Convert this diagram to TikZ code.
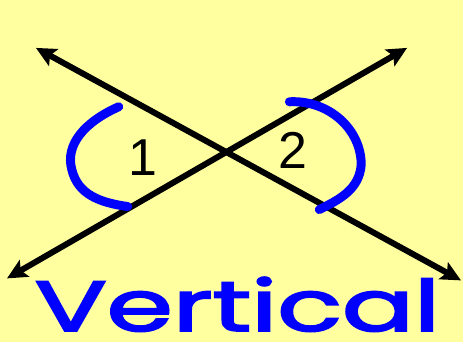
\documentclass[tikz,border=0pt]{standalone}
\usepackage{graphicx}
\usepackage{fontspec}
\setmainfont{Liberation Sans}
\newfontfamily\handfont{Poppins}[FakeBold=2.5]
\usetikzlibrary{arrows.meta}
\definecolor{notepad}{RGB}{255,255,160}
\definecolor{ink}{RGB}{0,0,255}
\begin{document}
\begin{tikzpicture}[x=1pt,y=-1pt,>={Stealth[length=20pt,width=19pt,inset=4pt]}]
\fill[notepad] (0,0) rectangle (464,343);
% the two crossing lines
\coordinate (tl) at (36,48); \coordinate (br) at (462,281);
\coordinate (bl) at (7,279); \coordinate (tr) at (408,48);
\foreach \s/\e in {tl/br,bl/tr}{
\draw[<->,line width=6pt] (\s)--(\e);}
% angle marks
\draw[ink,line width=9pt,line cap=round] (119,107) .. controls (85,122) and (65,145) .. (72,170) .. controls (78,195) and (100,203) .. (128,207);
\draw[ink,line width=9pt,line cap=round] (290,102) .. controls (330,100) and (362,130) .. (362,165) .. controls (360,190) and (340,200) .. (320,210);
\node[font=\fontsize{52}{52}\selectfont] (one) at (143,158){1};
\node[font=\fontsize{52}{52}\selectfont] (two) at (294,151){2};
\node[text=ink,inner sep=0pt] (word) at (238,305){\resizebox{406pt}{54pt}{\handfont Vertical}};
\end{tikzpicture}
\end{document}
